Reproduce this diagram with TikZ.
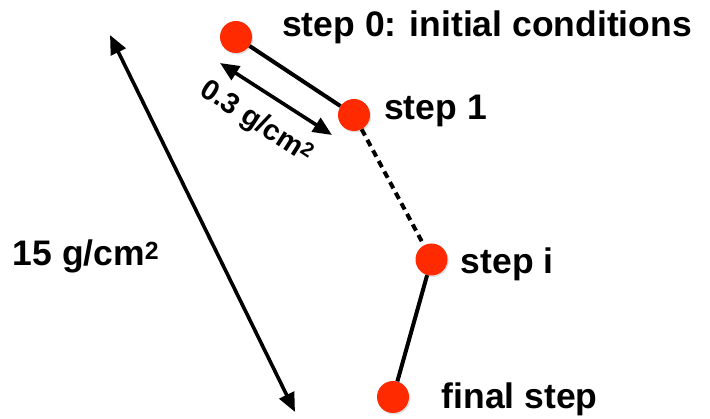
\documentclass[tikz,border=0pt]{standalone}
\usepackage{fontspec}
\setmainfont{Liberation Sans}
\usetikzlibrary{arrows.meta,positioning,shadows}
\definecolor{DotRed}{HTML}{FF2A00}
\newcommand{\sqsup}{\raisebox{0.19em}{\scalebox{0.7}{2}}}

\begin{document}
\begin{tikzpicture}[x=1pt, y=-1pt,
		dot/.style={circle, fill=DotRed, minimum size=32pt, inner sep=0pt,
			drop shadow={opacity=0.25, shadow xshift=1.2pt, shadow yshift=-1.5pt}},
		lbl/.style={anchor=base west, inner sep=0pt,
			font=\fontsize{35.5}{42}\selectfont\bfseries},
		small/.style={inner sep=0pt, font=\fontsize{29}{34}\selectfont\bfseries},
		link/.style={line width=4pt},
		dim/.style={{Triangle[length=19pt,width=16pt]}-{Triangle[length=19pt,width=16pt]},
			line width=3.6pt}
		]
		\useasboundingbox (0,0) rectangle (710,419);
		% steps
		\node[dot] (s0) at (236,37) {};
		\node[dot] (s1) at (354,115) {};
		\node[dot] (si) at (431.5,259.5) {};
		\node[dot] (sf) at (393,397) {};
		\node[lbl] (l0) at (282,36.5) {step 0: initial conditions};
		\node[lbl] (l1) at (384,119.3) {step 1};
		\node[lbl] (li) at (460.5,273.3) {step i};
		\node[lbl] (lf) at (441.5,408.3) {final step};
		\draw[link] (s0) -- (s1);
		\draw[link, dash pattern=on 7pt off 5pt] (s1) -- (si);
		\draw[link] (si) -- (sf);
		% dimensions
		\coordinate (a0) at (110,35);
		\coordinate (a1) at (295,412);
		\coordinate (b0) at (220,63);
		\coordinate (b1) at (332,135);
		\draw[dim] (a0) -- (a1);
		\draw[dim] (b0) -- node[small, sloped, below=15pt, pos=0.47] (lb) {0.3 g/cm\sqsup} (b1);
		\node[lbl] (la) at (12.5,266) {15 g/cm\sqsup};
	\end{tikzpicture}
\end{document}
